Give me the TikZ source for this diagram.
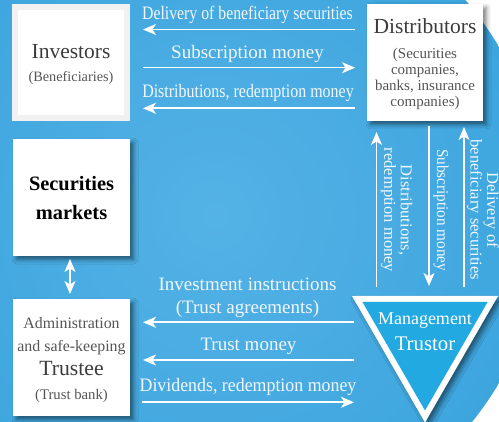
\documentclass[tikz,border=0pt]{standalone}
\usepackage{fontspec}
\usepackage{graphicx}
\setmainfont{Liberation Serif}
\usetikzlibrary{arrows.meta,shadows.blur}

\definecolor{bgdark}{HTML}{3DA5DE}
\definecolor{bglight}{HTML}{54B2E6}
\definecolor{trifill}{HTML}{22A9E1}
\definecolor{framegrey}{HTML}{F1F1F1}
\definecolor{boxtext}{HTML}{3C3C3C}
\definecolor{subtext}{HTML}{555555}
\definecolor{flowtext}{HTML}{F2F8FC}

\newcommand\fsz[2]{\fontsize{#1}{#2}\selectfont}
\newcommand\squeeze[2]{\scalebox{#1}[1]{#2}}

\tikzset{
  panel/.style={fill=white, draw=none, inner sep=0pt, outer sep=0pt},
  shadowed/.style={blur shadow={shadow xshift=3.5pt, shadow yshift=-3.5pt,
      shadow blur radius=4.5pt, shadow opacity=50}},
  flow/.style={draw=white, line width=1.6pt,
      -{Stealth[length=13pt,width=11pt,inset=3.5pt]}},
  flowlabel/.style={text=flowtext, inner sep=0pt, anchor=base, font=\fsz{19}{22}},
  vlabel/.style={text=flowtext, inner sep=0pt, rotate=-90, align=center,
      font=\fsz{16.5}{16.5}},
  title/.style={text=boxtext, inner sep=0pt, anchor=base, font=\fsz{21.5}{24}},
  small/.style={text=subtext, inner sep=0pt, anchor=base, font=\fsz{15}{17}},
}

\begin{document}
\begin{tikzpicture}[x=1pt,y=-1pt]
\useasboundingbox (0,0) rectangle (499,422);

% background
\begin{scope}
  \clip (0,0) rectangle (499,422);
  \shade[inner color=bglight, outer color=bgdark] (215,215) circle (330);
\end{scope}

% ---------- boxes ----------
\node[panel, fill=framegrey, minimum width=118pt, minimum height=117pt] (inv) at (71,62.5) {};
\node[panel, minimum width=106pt, minimum height=105pt] (invin) at (71,62.5) {};
\node[panel, shadowed, minimum width=116pt, minimum height=117pt] (dist) at (425,62.5) {};
\node[panel, shadowed, minimum width=117pt, minimum height=117pt] (sec) at (71.5,197.5) {};
\node[panel, shadowed, minimum width=117pt, minimum height=117pt] (tru) at (71.5,357.5) {};

% trustor triangle
\coordinate (tl) at (352,296);
\coordinate (tr) at (498,296);
\coordinate (tb) at (425,422.5);
\fill[white, shadowed] (tl) -- (tr) -- (tb) -- cycle;
\fill[trifill] (362.4,302) -- (487.6,302) -- (425,410.5) -- cycle;

% ---------- box texts ----------
\node[title] (tinv) at (71,59) {Investors};
\node[small, font=\fsz{14.3}{16}] (tben) at (71,81.7) {(Beneficiaries)};

\node[title] (tdist) at (425,33.3) {Distributors};
\node[small] (td1) at (425,59) {(Securities};
\node[small] (td2) at (425,75) {companies,};
\node[small] (td3) at (425,91) {banks, insurance};
\node[small] (td4) at (425,106.5) {companies)};

\node[title, text=black, font=\bfseries\fsz{20.4}{24}] (tsec1) at (71.5,191) {Securities};
\node[title, text=black, font=\bfseries\fsz{20.4}{24}] (tsec2) at (71.5,219.3) {markets};

\node[small, font=\fsz{15.9}{18}] (tt1) at (71.5,328.3) {Administration};
\node[small, font=\fsz{15.9}{18}] (tt2) at (71.5,351.7) {and safe-keeping};
\node[title, font=\fsz{21.7}{24}] (tt3) at (71.5,376) {Trustee};
\node[small, font=\fsz{14.7}{17}] (tt4) at (71.5,399.3) {(Trust bank)};

\node[inner sep=0pt, anchor=base, text=white, font=\fsz{18}{20}] (tm) at (425,325) {Management};
\node[inner sep=0pt, anchor=base, text=white, font=\fsz{20.8}{23}] (tto) at (425,351) {Trustor};

% ---------- upper flows (investors <-> distributors) ----------
\coordinate (u1a) at (355,29.5);  \coordinate (u1b) at (143,29.5);
\coordinate (u2a) at (143,67.7);  \coordinate (u2b) at (355,67.7);
\coordinate (u3a) at (355,108.3); \coordinate (u3b) at (143,108.3);
\draw[flow] (u1a) -- (u1b);
\draw[flow] (u2a) -- (u2b);
\draw[flow] (u3a) -- (u3b);
\node[flowlabel] (l1) at (247.5,20) {\squeeze{0.83}{Delivery of beneficiary securities}};
\node[flowlabel] (l2) at (247.5,59) {Subscription money};
\node[flowlabel] (l3) at (248,98) {\squeeze{0.84}{Distributions, redemption money}};

% ---------- vertical flows (distributors <-> trustor) ----------
\coordinate (v1a) at (376.5,287); \coordinate (v1b) at (376.5,132);
\coordinate (v2a) at (429,126);   \coordinate (v2b) at (429,286);
\coordinate (v3a) at (464,287);   \coordinate (v3b) at (464,127);
\draw[flow] (v1a) -- (v1b);
\draw[flow] (v2a) -- (v2b);
\draw[flow] (v3a) -- (v3b);
\node[vlabel] (vl1) at (396.5,210) {Distributions,\\redemption money};
\node[vlabel] (vl2) at (441,210) {\squeeze{0.92}{Subscription money}};
\node[vlabel] (vl3) at (483,210) {Delivery of\\beneficiary securities};

% ---------- securities markets <-> trustee ----------
\coordinate (m1) at (70,259);
\coordinate (m2) at (70,294);
\draw[flow, {Stealth[length=13pt,width=11pt,inset=3.5pt]}-{Stealth[length=13pt,width=11pt,inset=3.5pt]}] (m1) -- (m2);

% ---------- lower flows (trustor <-> trustee) ----------
\coordinate (b1a) at (354,322.3); \coordinate (b1b) at (143,322.3);
\coordinate (b2a) at (354,360);   \coordinate (b2b) at (143,360);
\coordinate (b3a) at (142,402.3); \coordinate (b3b) at (354,402.3);
\draw[flow] (b1a) -- (b1b);
\draw[flow] (b2a) -- (b2b);
\draw[flow] (b3a) -- (b3b);
\node[flowlabel] (l4) at (247.5,290.7) {Investment instructions};
\node[flowlabel] (l5) at (247.5,313.3) {(Trust agreements)};
\node[flowlabel] (l6) at (248.5,350.7) {Trust money};
\node[flowlabel] (l7) at (248,391.7) {\squeeze{0.94}{Dividends, redemption money}};
\end{tikzpicture}
\end{document}
